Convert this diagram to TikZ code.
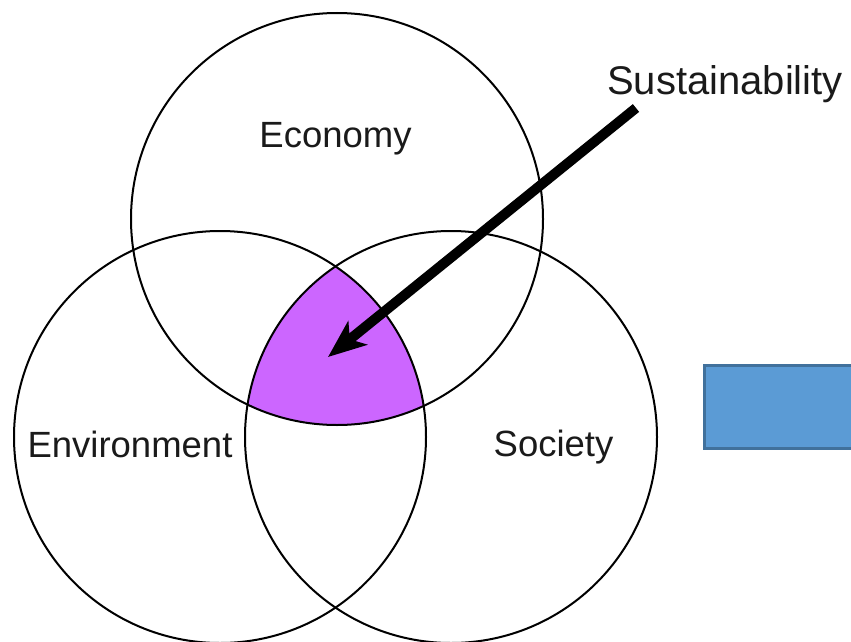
\documentclass[tikz,border=0pt]{standalone}
\usepackage{fontspec}
\setmainfont{Liberation Sans}
\usetikzlibrary{arrows.meta}
\definecolor{venn}{RGB}{204,102,255}
\definecolor{boxfill}{RGB}{91,155,213}
\definecolor{boxline}{RGB}{65,113,156}
\definecolor{txt}{RGB}{26,26,26}
\begin{document}
\begin{tikzpicture}[x=1pt,y=-1pt,
  ring/.style={circle,draw=black,line width=2pt,minimum size=412pt,inner sep=0pt},
  lbl/.style={anchor=base,inner sep=0pt,text=txt,font=\fontsize{36.5}{40}\selectfont},
  biglbl/.style={anchor=base,inner sep=0pt,text=txt,font=\fontsize{40}{44}\selectfont},
  bigarrow/.style={line width=10pt,-{Stealth[length=38pt,width=30pt,inset=10pt]}}]
\useasboundingbox (0,0) rectangle (851,642);
% purple intersection
\begin{scope}
  \clip (337,219) circle[radius=206];
  \clip (220,437) circle[radius=206];
  \fill[venn] (451,437) circle[radius=206];
\end{scope}
\node[ring] (eco) at (337,219) {};
\node[ring] (env) at (220,437) {};
\node[ring] (soc) at (451,437) {};
\node[lbl] (ecot) at (335.5,147) {Economy};
\node[lbl] (envt) at (130,457) {Environment};
\node[lbl] (soct) at (553.5,456) {Society};
\node[biglbl] (sust) at (725,95) {Sustainability};
% blue box
\node[draw=boxline,fill=boxfill,line width=3pt,minimum width=160pt,minimum height=83pt,inner sep=0pt,anchor=north west] (box) at (702.5,364) {};
\coordinate (astart) at (636,108);
\coordinate (aend) at (328,357);
\draw[bigarrow] (astart) -- (aend);
\end{tikzpicture}
\end{document}
